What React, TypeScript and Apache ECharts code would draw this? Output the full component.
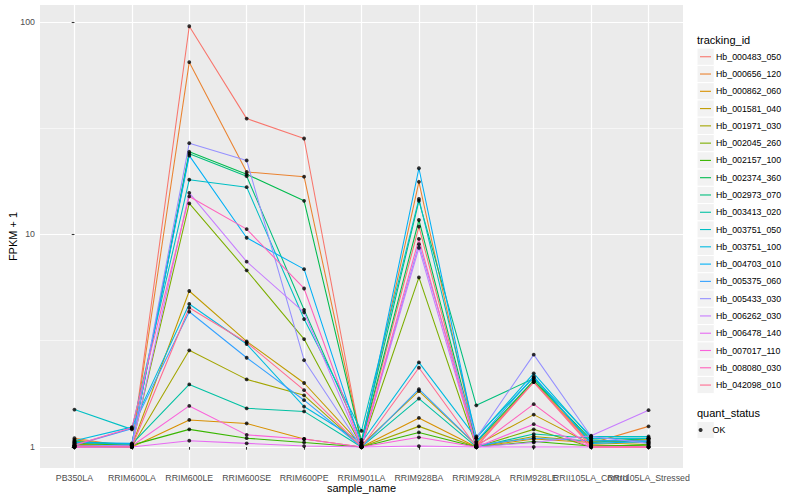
import React, { useEffect, useRef } from 'react';
import * as echarts from 'echarts';

const categories = [
  'PB350LA', 'RRIM600LA', 'RRIM600LE', 'RRIM600SE', 'RRIM600PE', 'RRIM901LA',
  'RRIM928BA', 'RRIM928LA', 'RRIM928LE', 'RRII105LA_Control', 'RRII105LA_Stressed',
];

const trackingIds = [
  'Hb_000483_050', 'Hb_000656_120', 'Hb_000862_060', 'Hb_001581_040', 'Hb_001971_030',
  'Hb_002045_260', 'Hb_002157_100', 'Hb_002374_360', 'Hb_002973_070', 'Hb_003413_020',
  'Hb_003751_050', 'Hb_003751_100', 'Hb_004703_010', 'Hb_005375_060', 'Hb_005433_030',
  'Hb_006262_030', 'Hb_006478_140', 'Hb_007017_110', 'Hb_008080_030', 'Hb_042098_010',
];

const lineColors = [
  '#F8766D', '#EA8331', '#D89000', '#C09B00', '#A3A500', '#7CAE00', '#39B600', '#00BB4E',
  '#00BF7D', '#00C1A3', '#00BFC4', '#00BAE0', '#00B0F6', '#35A2FF', '#9590FF', '#C77CFF',
  '#E76BF3', '#FA62DB', '#FF62BC', '#FF6C91',
];

// FPKM + 1 per sample, one array per tracking_id
const hb000483_050 = [1.0, 1.0, 95.5, 35.1, 28.3, 1.03, 10.9, 1.01, 2.02, 1.02, 1.0];
const hb000656_120 = [1.1, 1.0, 64.7, 19.7, 18.7, 1.05, 17.7, 1.03, 2.04, 1.04, 1.25];
const hb000862_060 = [1.08, 1.0, 1.34, 1.29, 1.09, 1.0, 1.37, 1.0, 1.09, 1.05, 1.08];
const hb001581_040 = [1.03, 1.01, 5.42, 3.14, 2.0, 1.02, 1.83, 1.02, 1.42, 1.03, 1.05];
const hb001971_030 = [1.0, 1.0, 2.85, 2.08, 1.75, 1.0, 1.25, 1.0, 1.12, 1.06, 1.09];
const hb002045_260 = [1.02, 1.01, 14.0, 6.78, 3.22, 1.01, 6.28, 1.0, 1.21, 1.0, 1.03];
const hb002157_100 = [1.04, 1.02, 1.21, 1.1, 1.05, 1.0, 1.17, 1.0, 1.06, 1.01, 1.02];
const hb002374_360 = [1.06, 1.03, 24.5, 19.2, 14.4, 1.05, 11.7, 1.05, 2.06, 1.08, 1.05];
const hb002973_070 = [1.01, 1.02, 24.0, 18.8, 4.42, 1.08, 14.4, 1.57, 2.1, 1.05, 1.1];
const hb003413_020 = [1.05, 1.03, 1.97, 1.52, 1.47, 1.0, 1.69, 1.0, 1.15, 1.1, 1.1];
const hb003751_050 = [1.5, 1.21, 18.1, 16.7, 4.0, 1.19, 14.7, 1.12, 2.12, 1.12, 1.12];
const hb003751_100 = [1.07, 1.24, 4.71, 3.05, 1.55, 1.05, 2.5, 1.1, 2.22, 1.1, 1.1];
const hb004703_010 = [1.05, 1.04, 23.5, 9.65, 6.87, 1.02, 20.5, 1.06, 2.15, 1.04, 1.06];
const hb005375_060 = [1.02, 1.22, 4.33, 2.63, 1.66, 1.0, 1.87, 1.02, 1.1, 1.07, 1.07];
const hb005433_030 = [1.01, 1.02, 26.9, 22.3, 2.56, 1.0, 9.0, 1.1, 2.72, 1.12, 1.04];
const hb006262_030 = [1.0, 1.0, 15.7, 7.45, 4.3, 1.0, 8.66, 1.0, 1.05, 1.13, 1.49];
const hb006478_140 = [1.0, 1.0, 1.07, 1.04, 1.01, 1.0, 1.01, 1.0, 1.0, 1.0, 1.0];
const hb007017_110 = [1.0, 1.01, 1.56, 1.14, 1.09, 1.0, 1.11, 1.0, 1.28, 1.0, 1.0];
const hb008080_030 = [1.02, 1.23, 15.1, 10.6, 5.57, 1.0, 9.53, 1.0, 1.59, 1.0, 1.0];
const hb042098_010 = [1.01, 1.0, 4.52, 3.1, 1.85, 1.0, 2.36, 1.0, 2.02, 1.0, 1.0];

const seriesValues = [
  hb000483_050, hb000656_120, hb000862_060, hb001581_040, hb001971_030,
  hb002045_260, hb002157_100, hb002374_360, hb002973_070, hb003413_020,
  hb003751_050, hb003751_100, hb004703_010, hb005375_060, hb005433_030,
  hb006262_030, hb006478_140, hb007017_110, hb008080_030, hb042098_010,
];

const yTickValues = [1, 10, 100];
const yTickLabels = ['1', '10', '100'];
const yMinorValues = [Math.sqrt(10), Math.sqrt(1000)];
const quantStatus = ['OK'];

const FONT = '"Liberation Sans", Arial, Helvetica, sans-serif';

const GRID_LEFT = 40;
const GRID_TOP = 5;
const GRID_W = 643;
const GRID_H = 463;
const X_MIN = -0.6;
const X_MAX = 10.6;
const Y_MIN = -0.099;
const Y_MAX = 2.08;
const KEY = 17.28;
const LEG1_TOP = 48.1;
const LEG2_TOP = 421.4;

function buildOption() {
  const catIdx = categories.map((_, i) => i);
  const evenIdx = catIdx.filter((i) => i % 2 === 0);
  const oddIdx = catIdx.filter((i) => i % 2 === 1);
  const lineSeries = trackingIds.map((id, k) => ({
    type: 'line',
    name: id,
    data: seriesValues[k].map((v, i) => [i, Math.log10(v)]),
    symbol: 'none',
    lineStyle: { color: lineColors[k], width: 1.07 },
    itemStyle: { color: lineColors[k] },
    silent: true,
    z: 2,
  }));
  const points: number[][] = [];
  seriesValues.forEach((arr) => arr.forEach((v, i) => points.push([i, Math.log10(v)])));

  const graphics: any[] = [];
  trackingIds.forEach((_, i) => {
    graphics.push({
      type: 'rect',
      silent: true,
      z: 0,
      shape: { x: 697, y: LEG1_TOP + KEY * i, width: KEY, height: KEY },
      style: { fill: '#F2F2F2', stroke: '#FFFFFF', lineWidth: 1 },
    });
  });
  graphics.push({
    type: 'rect',
    silent: true,
    z: 0,
    shape: { x: 697, y: LEG2_TOP, width: KEY, height: KEY },
    style: { fill: '#F2F2F2', stroke: '#FFFFFF', lineWidth: 1 },
  });
  graphics.push({
    type: 'text',
    silent: true,
    x: 697,
    y: 40,
    style: { text: 'tracking_id', fill: '#000', fontSize: 11, fontFamily: FONT, verticalAlign: 'middle' },
  });
  graphics.push({
    type: 'text',
    silent: true,
    x: 697,
    y: 413,
    style: { text: 'quant_status', fill: '#000', fontSize: 11, fontFamily: FONT, verticalAlign: 'middle' },
  });

  const xLabelStyle = {
    formatter: (v: number) => categories[Math.round(v)] ?? '',
    color: '#4D4D4D',
    fontSize: 8.8,
    fontFamily: FONT,
    margin: 5,
    showMinLabel: true,
    showMaxLabel: true,
    hideOverlap: false,
  };

  return {
    animation: false,
    grid: {
      left: GRID_LEFT,
      top: GRID_TOP,
      width: GRID_W,
      height: GRID_H,
      show: true,
      backgroundColor: '#EBEBEB',
      borderWidth: 0,
      containLabel: false,
      outerBoundsMode: 'none',
    },
    xAxis: [
      {
        type: 'value',
        min: X_MIN,
        max: X_MAX,
        position: 'bottom',
        offset: 0,
        axisLine: { show: false },
        axisTick: { show: true, length: 2.75, lineStyle: { color: '#333333', width: 1.07 }, customValues: catIdx },
        axisLabel: { ...xLabelStyle, customValues: evenIdx },
        splitLine: { show: true, lineStyle: { color: '#FFFFFF', width: 1.2 } },
        name: 'sample_name',
        nameLocation: 'middle',
        nameGap: 14.5,
        nameMoveOverlap: false,
        nameTextStyle: { color: '#000', fontSize: 11, fontFamily: FONT },
      },
      {
        type: 'value',
        min: X_MIN,
        max: X_MAX,
        position: 'bottom',
        offset: 0,
        axisLine: { show: false },
        axisTick: { show: false, customValues: oddIdx },
        axisLabel: { ...xLabelStyle, customValues: oddIdx },
        splitLine: { show: false },
      },
    ],
    yAxis: [
      {
        type: 'value',
        min: Y_MIN,
        max: Y_MAX,
        axisLine: { show: false },
        axisTick: {
          show: true,
          length: 2.75,
          lineStyle: { color: '#333333', width: 1.07 },
          customValues: yTickValues.map((v) => Math.log10(v)),
        },
        axisLabel: {
          customValues: yTickValues.map((v) => Math.log10(v)),
          formatter: (v: number) => yTickLabels[Math.round(v)] ?? '',
          color: '#4D4D4D',
          fontSize: 8.8,
          fontFamily: FONT,
          margin: 5,
          showMinLabel: true,
          showMaxLabel: true,
        },
        splitLine: { show: true, lineStyle: { color: '#FFFFFF', width: 1.2 } },
        name: 'FPKM + 1',
        nameLocation: 'middle',
        nameGap: 22,
        nameMoveOverlap: false,
        nameTextStyle: { color: '#000', fontSize: 11, fontFamily: FONT },
      },
      {
        type: 'value',
        min: Y_MIN,
        max: Y_MAX,
        position: 'left',
        offset: 0,
        axisLine: { show: false },
        axisTick: { show: false, customValues: yMinorValues.map((v) => Math.log10(v)) },
        axisLabel: { show: false, customValues: yMinorValues.map((v) => Math.log10(v)) },
        splitLine: { show: true, lineStyle: { color: '#FFFFFF', width: 0.55 } },
      },
    ],
    legend: [
      {
        orient: 'vertical',
        left: 700,
        top: LEG1_TOP,
        padding: 0,
        itemWidth: 11,
        itemHeight: 1.1,
        itemGap: 0,
        icon: 'rect',
        selectedMode: false,
        data: trackingIds,
        textStyle: { fontSize: 8.8, color: '#000', fontFamily: FONT, lineHeight: KEY },
      },
      {
        orient: 'vertical',
        left: 698.6,
        top: LEG2_TOP,
        padding: 0,
        itemWidth: 14,
        itemHeight: 4,
        itemGap: 0,
        icon: 'circle',
        selectedMode: false,
        data: quantStatus,
        textStyle: { fontSize: 8.8, color: '#000', fontFamily: FONT, lineHeight: KEY },
      },
    ],
    graphic: graphics,
    series: [
      ...lineSeries,
      {
        type: 'scatter',
        name: quantStatus[0],
        data: points,
        symbol: 'circle',
        symbolSize: 3.8,
        itemStyle: { color: '#000000' },
        silent: true,
        z: 3,
      },
    ],
  };
}

export default function App() {
  const ref = useRef<HTMLDivElement>(null);
  useEffect(() => {
    if (!ref.current) return;
    const chart = echarts.init(ref.current, null, { renderer: 'svg' });
    chart.setOption(buildOption() as any);
    return () => chart.dispose();
  }, []);
  return (
    <div
      ref={ref}
      style={{ position: 'fixed', left: 0, top: 0, width: 800, height: 500, background: '#fff' }}
    />
  );
}
